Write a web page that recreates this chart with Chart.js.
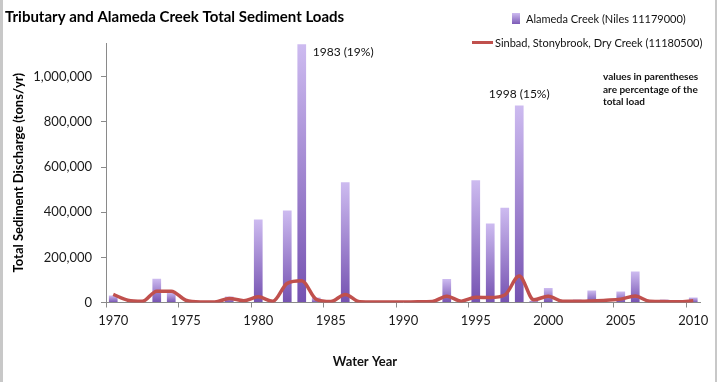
<!DOCTYPE html>
<html><head><meta charset="utf-8">
<script src="https://cdn.jsdelivr.net/npm/chart.js@4.4.1/dist/chart.umd.min.js"></script>
<style>html,body{margin:0;padding:0;background:#fff;}#wrap{width:720px;height:382px;}</style>
</head><body><div id="wrap"><canvas id="c" width="720" height="382"></canvas></div>
<script>
const years = ['1970','1971','1972','1973','1974','1975','1976','1977','1978','1979',
  '1980','1981','1982','1983','1984','1985','1986','1987','1988','1989',
  '1990','1991','1992','1993','1994','1995','1996','1997','1998','1999',
  '2000','2001','2002','2003','2004','2005','2006','2007','2008','2009','2010'];
const alamedaCreek = [31000,0,0,105000,45000,0,0,0,27000,0,
  368000,0,408000,1145000,22000,0,533000,0,0,0,
  0,0,0,104000,0,542000,350000,420000,873000,8000,
  64000,0,13000,53000,0,49000,137000,0,13000,0,22000];
const tributaries = [36000,10000,5000,50000,50000,10000,2000,2000,18000,8000,
  25000,5000,85000,96000,14000,4000,36000,3000,2000,2000,
  2000,3000,4000,28000,6000,23000,22000,33000,117000,12000,
  28000,5000,5000,7000,10000,15000,29000,5000,4000,3000,8000];
const xTickLabels = ['1970','1975','1980','1985','1990','1995','2000','2005','2010'];
const yTickValues = [0,200000,400000,600000,800000,1000000];
const seriesNames = ['Alameda Creek (Niles 11179000)','Sinbad, Stonybrook, Dry Creek (11180500)'];
const peakNotes = [{year:'1983', text:'1983 (19%)'},{year:'1998', text:'1998 (15%)'}];
const noteLines = ['values in parentheses','are percentage of the','total load'];

const FONT = 'Lato, "Open Sans", sans-serif';
Chart.defaults.font.family = FONT;
Chart.defaults.color = '#1a1a1a';
const AXIS = '#8a8a8a';
const RED = '#c0504d';

function barGradient(chart, top, bottom){
  const g = chart.ctx.createLinearGradient(0, top, 0, bottom);
  g.addColorStop(0, '#cdbbf0');
  g.addColorStop(1, '#7552b1');
  return g;
}

const deco = {
  id: 'deco',
  beforeDraw(chart){
    const c = chart.ctx; c.save();
    c.fillStyle = '#fff'; c.fillRect(0,0,chart.width,chart.height);
    c.fillStyle = '#c8c8c8'; c.fillRect(0,0,3,chart.height);
    c.fillRect(715,0,2,chart.height);
    c.restore();
  },
  afterDraw(chart){
    const c = chart.ctx, xs = chart.scales.x, ys = chart.scales.y;
    c.save();
    c.fillStyle = '#111';
    c.textBaseline = 'middle';
    c.font = '12px ' + FONT;
    const i83 = years.indexOf(peakNotes[0].year);
    c.textAlign = 'left';
    c.fillText(peakNotes[0].text, xs.getPixelForValue(i83) + 11, ys.getPixelForValue(alamedaCreek[i83]) + 8);
    const i98 = years.indexOf(peakNotes[1].year);
    c.textAlign = 'center';
    c.fillText(peakNotes[1].text, xs.getPixelForValue(i98), ys.getPixelForValue(alamedaCreek[i98]) - 11);
    c.font = 'bold 10px ' + FONT;
    c.textAlign = 'left';
    noteLines.forEach((t,k)=>c.fillText(t, 603, 77 + k*12.5));
    c.font = '11px ' + FONT;
    c.fillStyle = barGradient(chart, 13, 25);
    c.fillRect(512, 13, 8, 11);
    c.fillStyle = '#111';
    c.fillText(seriesNames[0], 526, 19);
    c.strokeStyle = RED; c.lineWidth = 3;
    c.beginPath(); c.moveTo(472, 42.5); c.lineTo(493, 42.5); c.stroke();
    c.fillText(seriesNames[1], 495, 43);
    c.font = 'bold 13px ' + FONT;
    c.textAlign = 'center';
    c.fillText('Water Year', 365, 362);
    c.restore();
  }
};

new Chart(document.getElementById('c'), {
  data: {
    labels: years,
    datasets: [
      { type: 'line', label: seriesNames[1], data: tributaries, borderColor: RED,
        backgroundColor: RED, borderWidth: 3.5, pointRadius: 0,
        cubicInterpolationMode: 'monotone', order: 0 },
      { type: 'bar', label: seriesNames[0], data: alamedaCreek, order: 1,
        barPercentage: 0.6, categoryPercentage: 1,
        backgroundColor: (ctx) => {
          const chart = ctx.chart;
          if (!chart.chartArea || ctx.type !== 'data') return '#9a7fd0';
          const y0 = chart.scales.y.getPixelForValue(0);
          const y1 = chart.scales.y.getPixelForValue(ctx.raw);
          if (!isFinite(y1) || y0 - y1 < 1) return '#8f70c6';
          return barGradient(chart, y1, y0);
        } }
    ]
  },
  options: {
    responsive: false,
    animation: false,
    layout: { padding: { left: 5, top: 0, right: 19.5, bottom: 0 } },
    plugins: {
      legend: { display: false },
      tooltip: { enabled: false },
      title: { display: true, text: 'Tributary and Alameda Creek Total Sediment Loads',
        align: 'start', color: '#000', font: { size: 15, weight: 'bold', family: FONT },
        padding: { top: 8.5, bottom: 16.5 } }
    },
    scales: {
      x: {
        type: 'category', offset: true,
        grid: { display: true, offset: true, drawOnChartArea: false, drawTicks: true, tickLength: 5,
          color: (ctx) => (ctx.index % 5 === 0 ? AXIS : 'rgba(0,0,0,0)') },
        border: { display: true, color: AXIS, width: 1 },
        ticks: { autoSkip: false, maxRotation: 0, minRotation: 0, padding: 6,
          font: { size: 13 },
          callback: (v, i) => (xTickLabels.includes(years[i]) ? years[i] : '') },
        afterFit: (s) => { s.height = 79.5; }
      },
      y: {
        min: 0, max: 1150000,
        afterBuildTicks: (s) => { s.ticks = yTickValues.map(v => ({ value: v })); },
        grid: { display: true, drawOnChartArea: false, drawTicks: true, tickLength: 5, color: AXIS },
        border: { display: true, color: AXIS, width: 1 },
        ticks: { padding: 9, font: { size: 13 }, callback: (v) => Number(v).toLocaleString('en-US') },
        title: { display: true, text: 'Total Sediment Discharge (tons/yr)', color: '#000',
          font: { size: 13, weight: 'bold' }, padding: { top: 6, bottom: 0 } },
        afterFit: (s) => { s.width = 101; }
      }
    }
  },
  plugins: [deco]
});
</script>
</body></html>
